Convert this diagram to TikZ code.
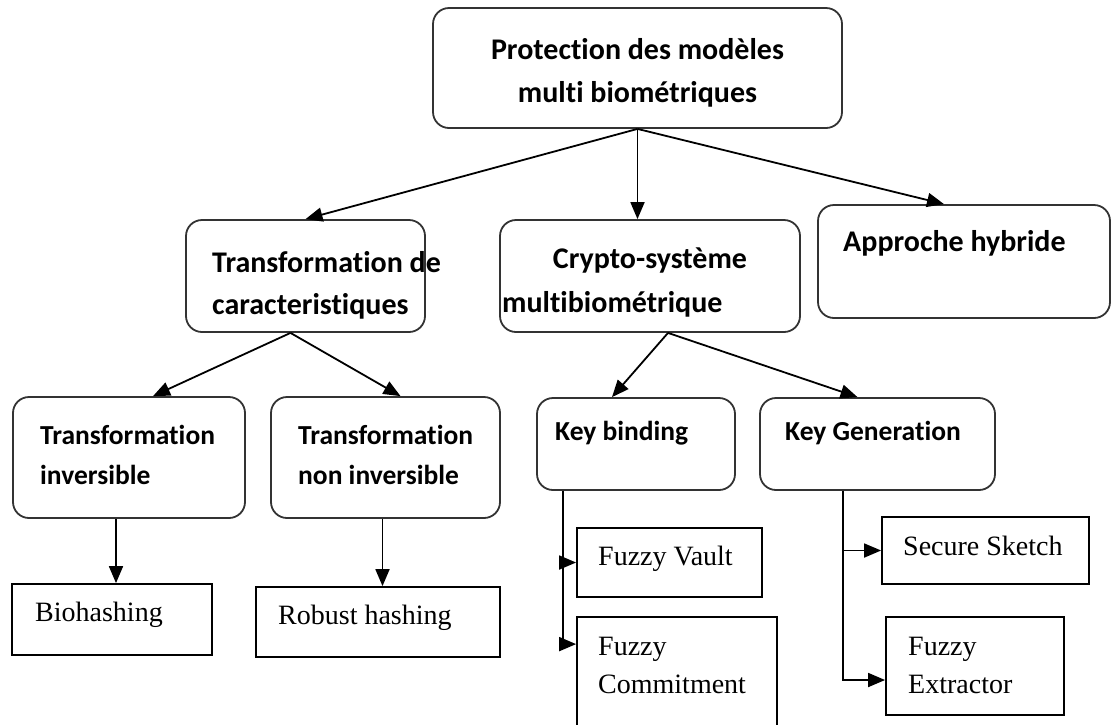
\documentclass[tikz,border=0pt]{standalone}
\usepackage{fontspec}
\setmainfont{Liberation Serif}
\newfontfamily\calfont[Ligatures=NoCommon]{Carlito}
\usetikzlibrary{arrows.meta}
\begin{document}
\begin{tikzpicture}[x=1pt,y=-1pt,
 rbox/.style={draw=black!80, line width=1.8pt, rounded corners=16pt, inner sep=0pt},
 sbox/.style={draw=black, line width=1.8pt, inner sep=0pt},
 arr/.style={line width=1.8pt, -{Triangle[length=17pt,width=14pt]}},
 bt/.style={font=\calfont\bfseries\fontsize{30}{36}\selectfont, anchor=base west, inner sep=0pt},
 bts/.style={font=\calfont\bfseries\fontsize{27.5}{33}\selectfont, anchor=base west, inner sep=0pt},
 st/.style={font=\fontsize{28}{34}\selectfont, anchor=base west, inner sep=0pt}]
\useasboundingbox (0,0) rectangle (1113,724);
% level 1
\node[rbox, minimum width=409pt, minimum height=120pt] (top) at (637.5,68) {};
\node[bt, anchor=base] (t1) at (637.5,59) {Protection des modèles};
\node[bt, anchor=base] (t2) at (637.5,102) {multi biométriques};
% level 2
\node[rbox, minimum width=239pt, minimum height=112pt] (tdc) at (305.5,276) {};
\node[bt] (tdc1) at (212,272) {Transformation de};
\node[bt] (tdc2) at (212,314) {caracteristiques};
\node[rbox, minimum width=300pt, minimum height=112pt] (crypto) at (650,276) {};
\node[bt, anchor=base] (cr1) at (650,268) {Crypto-système};
\node[bt] (cr2) at (502,312) {multibiométrique};
\node[rbox, minimum width=292pt, minimum height=113pt] (ah) at (964,261.5) {};
\node[bt] (ah1) at (843,251) {Approche hybride};
% level 3
\node[rbox, minimum width=232pt, minimum height=121pt] (ti) at (129,457.5) {};
\node[bts] (ti1) at (40,444) {Transformation};
\node[bts] (ti2) at (40,484) {inversible};
\node[rbox, minimum width=229pt, minimum height=121pt] (tni) at (385.5,457.5) {};
\node[bts] (tni1) at (298,444) {Transformation};
\node[bts] (tni2) at (298,484) {non inversible};
\node[rbox, minimum width=198pt, minimum height=92pt] (kb) at (636,444) {};
\node[bts] (kb1) at (555,440) {Key binding};
\node[rbox, minimum width=235pt, minimum height=92pt] (kg) at (877.5,444) {};
\node[bts] (kg1) at (785,440) {Key Generation};
% level 4
\node[sbox, minimum width=200pt, minimum height=71pt] (bio) at (112,619.5) {};
\node[st] (bio1) at (35,621) {Biohashing};
\node[sbox, minimum width=244pt, minimum height=70pt] (rh) at (378,622) {};
\node[st] (rh1) at (278,624) {Robust hashing};
\node[sbox, minimum width=185pt, minimum height=69pt] (fv) at (669.5,562.5) {};
\node[st] (fv1) at (598,565) {Fuzzy Vault};
\node[sbox, minimum width=200pt, minimum height=123pt] (fc) at (677,678.5) {};
\node[st] (fc1) at (598,655) {Fuzzy};
\node[st] (fc2) at (598,693) {Commitment};
\node[sbox, minimum width=207pt, minimum height=67pt] (ss) at (985.5,550.5) {};
\node[st] (ss1) at (903,555) {Secure Sketch};
\node[sbox, minimum width=178pt, minimum height=98pt] (fe) at (975,666) {};
\node[st] (fe1) at (908,655) {Fuzzy};
\node[st] (fe2) at (908,693) {Extractor};
% connectors
\draw[arr] (top.south) -- (tdc.north);
\draw[arr] (top.south) -- (top.south |- crypto.north);
\draw[arr] (top.south) -- ([xshift=-20pt]ah.north);
\draw[arr] ([xshift=-15pt]tdc.south) -- ([xshift=24pt]ti.north);
\draw[arr] ([xshift=-15pt]tdc.south) -- ([xshift=15pt]tni.north);
\draw[arr] ([xshift=18pt]crypto.south) -- ([xshift=-24pt]kb.north);
\draw[arr] ([xshift=18pt]crypto.south) -- ([xshift=-20pt]kg.north);
\draw[arr] ([xshift=-13pt]ti.south) -- ([xshift=-13pt]ti.south |- bio.north);
\draw[arr] ([xshift=-3pt]tni.south) -- ([xshift=-3pt]tni.south |- rh.north);
\coordinate (kbl) at ([xshift=-73pt]kb.south);
\draw[arr] (kbl) |- (fv.west);
\draw[arr] (kbl) |- ([yshift=-28pt]fc.north west);
\coordinate (kgl) at ([xshift=-34.5pt]kg.south);
\draw[arr] (kgl) |- (ss.west);
\draw[arr] (kgl) |- ([yshift=-14pt]fe.west);
\end{tikzpicture}
\end{document}
